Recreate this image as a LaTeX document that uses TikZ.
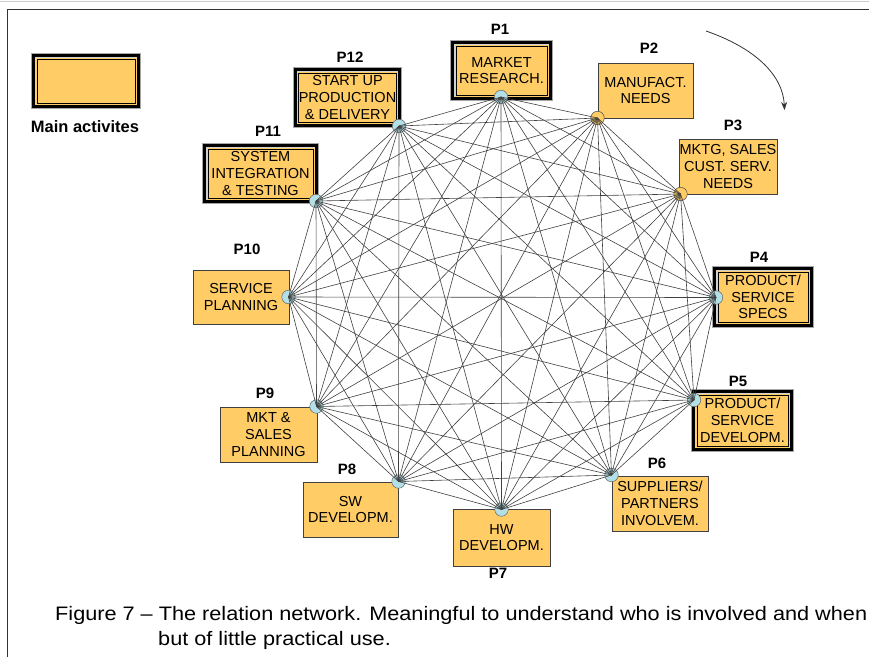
\documentclass[tikz,border=0pt]{standalone}
\usepackage{fontspec}
\setmainfont{Liberation Sans}
\usetikzlibrary{arrows.meta}
\definecolor{boxorange}{RGB}{255,204,102}
\definecolor{hubblue}{RGB}{178,224,230}
\newcommand\bxfont{\fontsize{14.5}{16.7}\selectfont}
\newcommand\lblfont{\fontsize{15}{17}\selectfont\bfseries}
\tikzset{
  mainbox/.style={rectangle, fill=boxorange, draw=black, line width=0.8pt, inner sep=0pt, align=center, font=\bxfont,
    preaction={draw=gray!70, line width=12pt},
    preaction={draw=black, line width=10pt},
    preaction={draw=gray!35, line width=4pt},
    preaction={draw=boxorange, line width=3pt}},
  plainbox/.style={rectangle, fill=boxorange, draw=black!75, line width=0.8pt, inner sep=0pt, align=center, font=\bxfont},
  hub/.style={circle, fill=hubblue, draw=gray!80!black, line width=0.5pt, minimum size=13.5pt, inner sep=0pt},
  hubo/.style={circle, fill=boxorange, draw=black!70, line width=0.5pt, minimum size=13.5pt, inner sep=0pt},
  plabel/.style={font=\lblfont, inner sep=0pt},
  edge/.style={draw=black!75, line width=0.6pt},
  frameline/.style={draw=black!80, line width=0.8pt}
}
\begin{document}
\begin{tikzpicture}[x=1pt,y=-1pt]
\path[use as bounding box] (0,0) rectangle (869,657);
% frame
\coordinate (ftl) at (7,9);
\coordinate (ftr) at (869,9);
\coordinate (fbl) at (7,657);
\draw[frameline] (fbl) -- (ftl) -- (ftr);
\coordinate (gtl) at (0,1);
\coordinate (gtr) at (869,1);
\draw[gray!40, line width=0.8pt] (gtl) -- (gtr);

% legend
\node[mainbox, minimum width=98pt, minimum height=44pt] (legend) at (86,81) {};
\node[font=\fontsize{16.5}{18}\selectfont\bfseries, inner sep=0pt] (legendtxt) at (85,127) {Main activites};

% boxes
\node[mainbox, minimum width=91pt, minimum height=49pt] (b1) at (501.5,70.5) {MARKET\\RESEARCH.};
\node[plainbox, minimum width=95pt, minimum height=55pt] (b2) at (645.5,90.5) {MANUFACT.\\NEEDS};
\node[plainbox, minimum width=98pt, minimum height=55pt] (b3) at (728,166.5) {MKTG, SALES\\CUST. SERV.\\NEEDS};
\node[mainbox, minimum width=90pt, minimum height=50pt] (b4) at (763,297) {PRODUCT/\\SERVICE\\SPECS};
\node[mainbox, minimum width=91pt, minimum height=51pt] (b5) at (742.5,420.5) {PRODUCT/\\SERVICE\\DEVELOPM.};
\node[plainbox, minimum width=96pt, minimum height=55pt] (b6) at (660,503.5) {SUPPLIERS/\\PARTNERS\\INVOLVEM.};
\node[plainbox, minimum width=97pt, minimum height=57pt] (b7) at (501.5,537.5) {HW\\DEVELOPM.};
\node[plainbox, minimum width=95pt, minimum height=55pt] (b8) at (350.5,509.5) {SW\\DEVELOPM.};
\node[plainbox, minimum width=97pt, minimum height=55pt] (b9) at (268.5,434.5) {MKT \&\\SALES\\PLANNING};
\node[plainbox, minimum width=96pt, minimum height=54pt] (b10) at (241,297) {SERVICE\\PLANNING};
\node[mainbox, minimum width=105pt, minimum height=49pt] (b11) at (260.5,173.5) {SYSTEM\\INTEGRATION\\\& TESTING};
\node[mainbox, minimum width=97pt, minimum height=49pt] (b12) at (347.5,97.5) {START UP\\PRODUCTION\\\& DELIVERY};

% labels
\node[plabel] (l1) at (500,29) {P1};
\node[plabel] (l2) at (649,48) {P2};
\node[plabel] (l3) at (733,125) {P3};
\node[plabel] (l4) at (759,257) {P4};
\node[plabel] (l5) at (738,381) {P5};
\node[plabel] (l6) at (657,463) {P6};
\node[plabel] (l7) at (498,573) {P7};
\node[plabel] (l8) at (347,469) {P8};
\node[plabel] (l9) at (265,393) {P9};
\node[plabel] (l10) at (247,249) {P10};
\node[plabel] (l11) at (268,131) {P11};
\node[plabel] (l12) at (350,57.5) {P12};

% hubs
\node[hub] (c1) at (501,97) {};
\node[hubo] (c2) at (597.5,118) {};
\node[hubo] (c3) at (680.5,194) {};
\node[hub] (c4) at (716,297.5) {};
\node[hub] (c5) at (694,400) {};
\node[hub] (c6) at (611.5,475) {};
\node[hub] (c7) at (501.5,509.5) {};
\node[hub] (c8) at (398.5,481.5) {};
\node[hub] (c9) at (316.5,406.5) {};
\node[hub] (c10) at (288.5,297) {};
\node[hub] (c11) at (316,201) {};
\node[hub] (c12) at (399,126) {};

% edges (complete graph)
\foreach \i in {1,...,11}{
  \pgfmathtruncatemacro\jstart{\i+1}
  \foreach \j in {\jstart,...,12}{
    \draw[edge] (c\i.center) -- (c\j.center);
  }
}

% rotation arrow
\coordinate (arrS) at (706,31);
\coordinate (arrE) at (784.5,110);
\draw[black!80, line width=0.8pt, -{Stealth[length=8pt,width=6pt]}] (arrS) .. controls (755,48) and (783,75) .. (arrE);

% caption
\node[anchor=base west, inner sep=0pt, font=\fontsize{19.5}{22}\selectfont] (cap1) at (55,620) {\scalebox{1.112}[1]{Figure 7 – The relation network. Meaningful to understand who is involved and when}};
\node[anchor=base west, inner sep=0pt, font=\fontsize{19.5}{22}\selectfont] (cap2) at (158,645) {\scalebox{1.112}[1]{but of little practical use.}};
\end{tikzpicture}
\end{document}
